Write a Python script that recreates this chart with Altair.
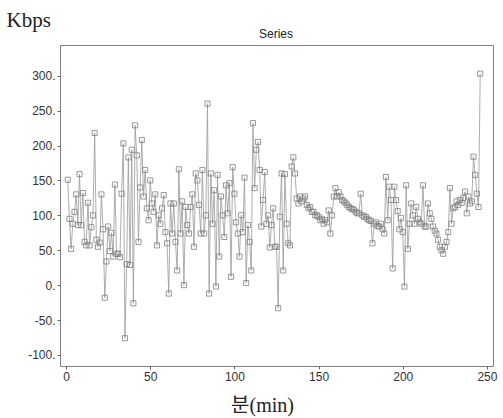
import altair as alt
import pandas as pd

minutes = list(range(1, 247))
kbps = [
    151, 95, 52, 88, 105, 130, 86, 159, 86, 132,
    62, 57, 118, 57, 83, 100, 218, 65, 55, 61,
    130, 80, -18, 34, 84, 49, 75, 41, 144, 45,
    45, 40, 131, 203, -76, 30, 183, 29, 194, -26,
    229, 186, 62, 140, 208, 127, 165, 110, 93, 150,
    117, 105, 130, 57, 100, 88, 110, 129, 76, 60,
    -12, 117, 74, 117, 62, 21, 166, 74, 120, 0,
    112, 86, 74, 112, 130, 55, 160, 150, 115, 74,
    165, 74, 100, 260, -12, 160, 88, 136, -2, 158,
    41, 127, 100, 69, 143, 103, 146, 12, 169, 131,
    90, 74, 41, 100, 76, 154, 3, 86, 62, 21,
    232, 139, 194, 205, 165, 84, 122, 162, 88, 100,
    54, 86, 110, 55, 55, -33, 98, 160, 21, 159,
    88, 60, 57, 170, 183, 160, 124, 117, 127, 120,
    124, 127, 115, 110, 112, 105, 105, 100, 100, 98,
    93, 95, 88, 93, 90, 107, 74, 100, 127, 139,
    127, 133, 127, 122, 120, 118, 115, 112, 110, 109,
    108, 105, 103, 103, 131, 100, 98, 98, 95, 93,
    92, 60, 88, 90, 85, 84, 88, 80, 74, 155,
    93, 141, 122, 24, 141, 122, 106, 80, 96, 76,
    -2, 143, 52, 88, 117, 100, 88, 112, 95, 90,
    88, 143, 84, 84, 117, 103, 95, 84, 78, 74,
    65, 55, 50, 45, 55, 62, 76, 139, 88, 110,
    112, 120, 115, 122, 118, 125, 134, 103, 127, 117,
    120, 184, 158, 131, 112, 303,
]
x_ticks = [0, 50, 100, 150, 200, 250]
y_ticks = [-100, -50, 0, 50, 100, 150, 200, 250, 300]
panel_title = ["Series"]

df = pd.DataFrame({"minute": minutes, "kbps": kbps})

serif = "Liberation Serif, DejaVu Serif, Noto Sans CJK KR, serif"
sans = "Liberation Sans, Arial, sans-serif"

base = alt.Chart(df).encode(
    x=alt.X(
        "minute:Q",
        scale=alt.Scale(domain=[-3.6, 253.6], nice=False, zero=False),
        axis=alt.Axis(
            values=x_ticks, title="분(min)", grid=False, domain=False,
            tickSize=3, tickColor="#666", labelFontSize=12, labelFont=sans,
            labelColor="#333", labelPadding=2,
            titleFont=serif, titleFontSize=20, titleFontWeight="normal",
            titleColor="#222", titleX=202, titleY=45, titleBaseline="alphabetic",
        ),
    ),
    y=alt.Y(
        "kbps:Q",
        scale=alt.Scale(domain=[-115.8, 344], nice=False, zero=False),
        axis=alt.Axis(
            values=y_ticks, title="Kbps", grid=False, domain=False,
            tickSize=3, tickColor="#666", labelFontSize=12, labelFont=sans,
            labelColor="#333", labelPadding=2,
            labelExpr="datum.value + '.'",
            titleFont=serif, titleFontSize=21, titleFontWeight="normal",
            titleColor="#222", titleAngle=0, titleX=-54, titleY=-19,
            titleAlign="left", titleBaseline="alphabetic",
        ),
    ),
)

line = base.mark_line(color="#999999", strokeWidth=0.8)
pts = base.mark_point(shape="square", size=26, filled=False, color="#7f7f7f",
                      strokeWidth=0.8, opacity=1)

title_text = alt.Chart(pd.DataFrame({"t": panel_title})).mark_text(
    font=sans, fontSize=12, color="#222", baseline="bottom", align="center"
).encode(text="t:N", x=alt.value(216), y=alt.value(-4))

chart = (
    (line + pts + title_text)
    .properties(
        width=433, height=321,
        autosize="none",
        padding={"left": 60, "top": 45, "right": 10, "bottom": 52},
        background="white",
    )
    .configure_view(stroke="#808080", strokeWidth=1)
)

chart.save("out.html", embed_options={"renderer": "svg", "actions": False})
